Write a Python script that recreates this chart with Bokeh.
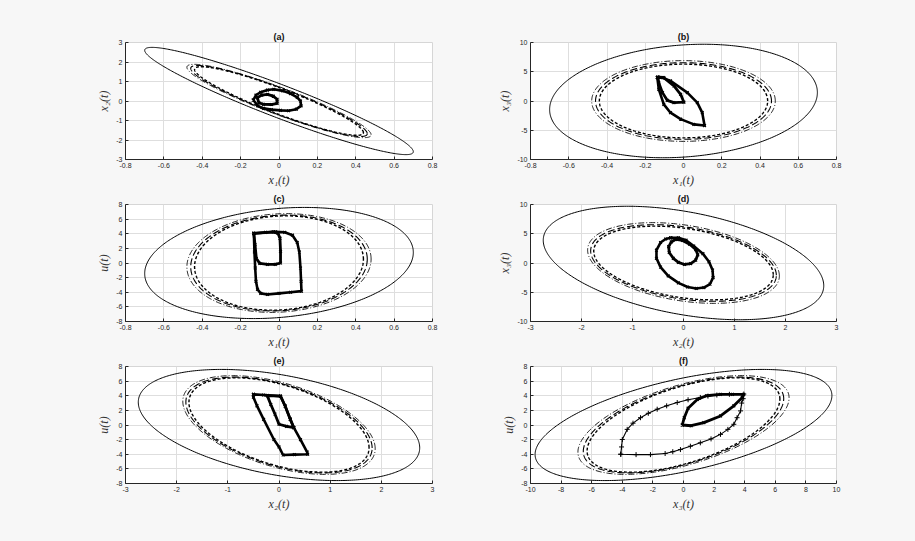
import numpy as np
from bokeh.plotting import figure
from bokeh.layouts import column, row
from bokeh.models import Range1d, FixedTicker
from bokeh.embed import file_html
from bokeh.resources import INLINE

# ---------------------------------------------------------------
# Projected invariant ellipsoids (all centred at the origin).
# Half-extent of each set along each coordinate.
# ---------------------------------------------------------------
half_x1 = [0.70, 0.48, 0.46, 0.44]
half_x2 = [2.75, 1.88, 1.82, 1.76]
half_x3 = [9.70, 6.90, 6.55, 6.30]
half_u = [7.60, 6.75, 6.55, 6.45]

# Correlation of the projected ellipse for each coordinate pair.
rho_x1_x2 = [-0.945, -0.92, -0.92, -0.92]
rho_x1_x3 = [0.15, 0.0, 0.0, 0.0]
rho_x1_u = [0.19, 0.08, 0.08, 0.08]
rho_x2_x3 = [-0.40, -0.32, -0.32, -0.32]
rho_x2_u = [-0.41, -0.48, -0.48, -0.48]
rho_x3_u = [0.53, 0.55, 0.55, 0.55]

# ---------------------------------------------------------------
# Closed-loop trajectories, per projection (two loops each).
# ---------------------------------------------------------------
# (a) x1 - x2
a_outer_x1 = [-0.134, -0.12, -0.096, -0.06, -0.027, 0.02, 0.06, 0.095, 0.112, 0.115, 0.09, 0.05, 0.008, -0.04, -0.08, -0.11, -0.134]
a_outer_x2 = [0.05, 0.3, 0.45, 0.56, 0.6, 0.52, 0.38, 0.18, 0.0, -0.25, -0.42, -0.5, -0.48, -0.44, -0.38, -0.25, 0.05]
a_inner_x1 = [-0.113, -0.09, -0.06, -0.03, -0.01, -0.01, -0.04, -0.08, -0.105, -0.113]
a_inner_x2 = [0.17, 0.3, 0.34, 0.25, 0.09, -0.12, -0.18, -0.17, -0.09, 0.17]

# (b) x1 - x3
b_outer_x1 = [-0.137, -0.111, -0.068, 0.02, 0.072, 0.098, 0.11, 0.054, -0.015, -0.068, -0.103, -0.129, -0.137]
b_outer_x3 = [4.0, 4.0, 3.43, 1.43, -0.29, -2.0, -4.2, -4.0, -3.1, -2.0, -0.57, 2.0, 4.0]
b_inner_x1 = [-0.134, -0.103, -0.05, -0.015, 0.002, -0.05, -0.085, -0.11, -0.129, -0.134]
b_inner_x3 = [4.1, 4.0, 2.57, 1.14, -0.2, -0.29, 0.11, 1.43, 3.1, 4.1]

# (c) x1 - u
c_outer_x1 = [-0.131, -0.018, 0.03, 0.07, 0.095, 0.106, 0.112, 0.115, 0.117, 0.06, 0.0, -0.06, -0.095, -0.112, -0.12, -0.124, -0.128, -0.131]
c_outer_u = [4.05, 4.26, 4.2, 3.8, 2.8, 1.5, -0.68, -2.5, -3.85, -4.0, -4.15, -4.3, -4.15, -3.6, -2.5, -0.68, 1.5, 4.05]
c_inner_x1 = [-0.131, -0.07, -0.03, -0.005, 0.005, 0.008, 0.008, -0.02, -0.06, -0.1, -0.118, -0.125, -0.131]
c_inner_u = [4.05, 4.2, 4.25, 4.05, 3.4, 1.6, 0.0, -0.18, -0.2, -0.05, 0.6, 2.5, 4.05]

# (d) x2 - x3
d_outer_x2 = [-0.25, -0.1, 0.05, 0.2, 0.38, 0.5, 0.57, 0.58, 0.52, 0.4, 0.25, 0.08, -0.1, -0.3, -0.45, -0.53, -0.53, -0.45, -0.35, -0.25]
d_outer_x3 = [4.3, 4.3, 3.9, 2.9, 1.6, 0.2, -1.2, -2.5, -3.6, -4.2, -4.35, -4.1, -3.4, -2.2, -0.7, 0.8, 2.2, 3.5, 4.1, 4.3]
d_inner_x2 = [-0.15, -0.02, 0.12, 0.24, 0.28, 0.24, 0.14, 0.02, -0.1, -0.2, -0.28, -0.29, -0.24, -0.15]
d_inner_x3 = [4.05, 3.85, 3.2, 2.3, 1.4, 0.5, -0.1, -0.25, 0.1, 0.8, 1.8, 2.8, 3.6, 4.05]

# (e) x2 - u
e_outer_x2 = [-0.5, -0.3, 0.03, 0.12, 0.22, 0.29, 0.42, 0.55, 0.56, 0.3, 0.08, 0.0, -0.1, -0.3, -0.43, -0.5, -0.5]
e_outer_u = [4.2, 4.1, 3.95, 2.6, 0.8, -0.37, -2.0, -3.7, -4.0, -4.05, -4.1, -3.0, -1.98, 0.78, 2.62, 3.8, 4.2]
e_inner_x2 = [-0.23, 0.03, 0.12, 0.22, 0.29, 0.15, 0.0, -0.08, -0.16, -0.23]
e_inner_u = [4.02, 3.95, 2.6, 0.8, -0.37, -0.2, 0.1, 1.5, 2.8, 4.02]

# (f) x3 - u
f_outer_x3 = [-4.1, -4.05, -4.0, -3.68, -3.3, -2.81, -2.3, -1.72, -1.1, -0.41, 0.3, 1.1, 1.6, 2.18, 3.0, 3.94, 3.9, 3.8, 3.73, 3.5, 3.29, 2.9, 2.42, 1.8, 1.1, 0.45, -0.2, -0.7, -1.2, -2.16, -3.1, -4.1]
f_outer_u = [-4.0, -3.0, -1.98, -0.6, 0.25, 1.0, 1.6, 2.16, 2.62, 3.07, 3.45, 3.77, 3.95, 4.1, 4.2, 4.23, 3.6, 3.0, 1.93, 1.0, 0.1, -0.6, -1.28, -1.9, -2.44, -2.9, -3.36, -3.65, -3.9, -4.05, -4.05, -4.0]
f_inner_x3 = [-0.08, 0.05, 0.3, 0.9, 1.5, 2.4, 3.2, 3.94, 3.84, 3.29, 2.42, 1.33, 0.5, -0.08]
f_inner_u = [0.0, 1.0, 2.3, 3.5, 4.0, 4.2, 4.2, 4.2, 3.77, 2.62, 1.24, 0.32, -0.1, 0.0]

# tick positions
ticks_x1 = [-0.8, -0.6, -0.4, -0.2, 0, 0.2, 0.4, 0.6, 0.8]
ticks_x2_a = [-3, -2, -1, 0, 1, 2, 3]
ticks_x3 = [-10, -5, 0, 5, 10]
ticks_u = [-8, -6, -4, -2, 0, 2, 4, 6, 8]
ticks_x3_f = [-10, -8, -6, -4, -2, 0, 2, 4, 6, 8, 10]

# line style of each ellipsoid (outer solid, then dash-dot, long dash, short dash)
ELLIPSE_STYLE = [
    dict(line_dash="solid", line_width=1.0),
    dict(line_dash="6 2 1 2", line_width=0.9),
    dict(line_dash="7 3", line_width=1.1),
    dict(line_dash="3 2", line_width=1.4),
]

TICK_FONT = "Liberation Sans"
LABEL_FONT = "Liberation Serif"
BG = "#f7f7f7"


def tick_text(v):
    return f"{v:g}"


def ellipse_points(a, b, rho, n=361):
    t = np.linspace(0.0, 2.0 * np.pi, n)
    x = a * np.cos(t)
    y = b * (rho * np.cos(t) + np.sqrt(1.0 - rho * rho) * np.sin(t))
    return x, y


def panel(title, xlim, ylim, xticks, yticks, xlabel, ylabel,
          hx, hy, rho, outer, inner, width, height, bl, br, bt, bb,
          sparse_outer=False):
    p = figure(width=width, height=height,
               x_range=Range1d(*xlim), y_range=Range1d(*ylim),
               output_backend="svg", toolbar_location=None,
               min_border_left=bl, min_border_right=br,
               min_border_top=bt, min_border_bottom=bb)
    p.title.text = title
    p.title.align = "center"
    p.title.text_font = "Liberation Sans"
    p.title.text_font_style = "bold"
    p.title.text_font_size = "9px"
    p.title.text_color = "#111111"
    p.title.standoff = 2
    p.background_fill_color = "white"
    p.border_fill_color = BG
    p.outline_line_color = "#d6d6d6"
    p.outline_line_width = 1

    p.xaxis.ticker = FixedTicker(ticks=xticks)
    p.yaxis.ticker = FixedTicker(ticks=yticks)
    p.xaxis.major_label_overrides = {v: tick_text(v) for v in xticks}
    p.yaxis.major_label_overrides = {v: tick_text(v) for v in yticks}
    for ax in (p.xaxis[0], p.yaxis[0]):
        ax.axis_line_color = "#262626"
        ax.axis_line_width = 1
        ax.major_tick_in = 3
        ax.major_tick_out = 0
        ax.major_tick_line_color = "#262626"
        ax.minor_tick_line_color = None
        ax.major_label_text_font = TICK_FONT
        ax.major_label_text_font_size = "7px"
        ax.major_label_text_color = "#262626"
        ax.major_label_standoff = 3
        ax.axis_label_text_font = LABEL_FONT
        ax.axis_label_text_font_style = "italic"
        ax.axis_label_text_font_size = "12px"
        ax.axis_label_text_color = "#333333"
        ax.axis_label_standoff = 2
    p.xaxis.axis_label = xlabel
    p.yaxis.axis_label = ylabel

    p.xgrid.grid_line_color = "#dedede"
    p.ygrid.grid_line_color = "#dedede"
    p.xgrid.grid_line_width = 1
    p.ygrid.grid_line_width = 1

    for k in range(len(hx)):
        ex, ey = ellipse_points(hx[k], hy[k], rho[k])
        p.line(ex, ey, line_color="black", **ELLIPSE_STYLE[k])

    ox, oy = outer
    ix, iy = inner
    if sparse_outer:
        p.line(ox, oy, line_color="black", line_width=1.1)
        p.scatter(ox, oy, marker="cross", size=5, line_color="black", line_width=1)
    else:
        p.line(ox, oy, line_color="black", line_width=2.6, line_join="round")
        p.scatter(ox, oy, marker="x", size=4, line_color="black", line_width=1.2)
    p.line(ix, iy, line_color="black", line_width=2.8, line_join="round")
    p.scatter(ix, iy, marker="x", size=4, line_color="black", line_width=1.2)
    return p


# geometry of the two columns / three rows
LW, LBL, LBR = 442, 125, 10
RW, RBL, RBR = 473, 88, 79
ROWS = [(189, 42, 30), (162, 15, 30), (190, 15, 58)]

lab_x1, lab_x2, lab_x3, lab_u = "x\u2081(t)", "x\u2082(t)", "x\u2083(t)", "u(t)"

h, bt, bb = ROWS[0]
pa = panel("(a)", (-0.8, 0.8), (-3, 3), ticks_x1, ticks_x2_a, lab_x1, lab_x2,
           half_x1, half_x2, rho_x1_x2, (a_outer_x1, a_outer_x2), (a_inner_x1, a_inner_x2),
           LW, h, LBL, LBR, bt, bb)
pb = panel("(b)", (-0.8, 0.8), (-10, 10), ticks_x1, ticks_x3, lab_x1, lab_x3,
           half_x1, half_x3, rho_x1_x3, (b_outer_x1, b_outer_x3), (b_inner_x1, b_inner_x3),
           RW, h, RBL, RBR, bt, bb)

h, bt, bb = ROWS[1]
pc = panel("(c)", (-0.8, 0.8), (-8, 8), ticks_x1, ticks_u, lab_x1, lab_u,
           half_x1, half_u, rho_x1_u, (c_outer_x1, c_outer_u), (c_inner_x1, c_inner_u),
           LW, h, LBL, LBR, bt, bb)
pd = panel("(d)", (-3, 3), (-10, 10), ticks_x2_a, ticks_x3, lab_x2, lab_x3,
           half_x2, half_x3, rho_x2_x3, (d_outer_x2, d_outer_x3), (d_inner_x2, d_inner_x3),
           RW, h, RBL, RBR, bt, bb)

h, bt, bb = ROWS[2]
pe = panel("(e)", (-3, 3), (-8, 8), ticks_x2_a, ticks_u, lab_x2, lab_u,
           half_x2, half_u, rho_x2_u, (e_outer_x2, e_outer_u), (e_inner_x2, e_inner_u),
           LW, h, LBL, LBR, bt, bb)
pf = panel("(f)", (-10, 10), (-8, 8), ticks_x3_f, ticks_u, lab_x3, lab_u,
           half_x3, half_u, rho_x3_u, (f_outer_x3, f_outer_u), (f_inner_x3, f_inner_u),
           RW, h, RBL, RBR, bt, bb, sparse_outer=True)

layout = column(row(pa, pb, spacing=0), row(pc, pd, spacing=0), row(pe, pf, spacing=0),
                spacing=0, background=BG)

with open("out.html", "w") as fh:
    fh.write(file_html(layout, INLINE))
